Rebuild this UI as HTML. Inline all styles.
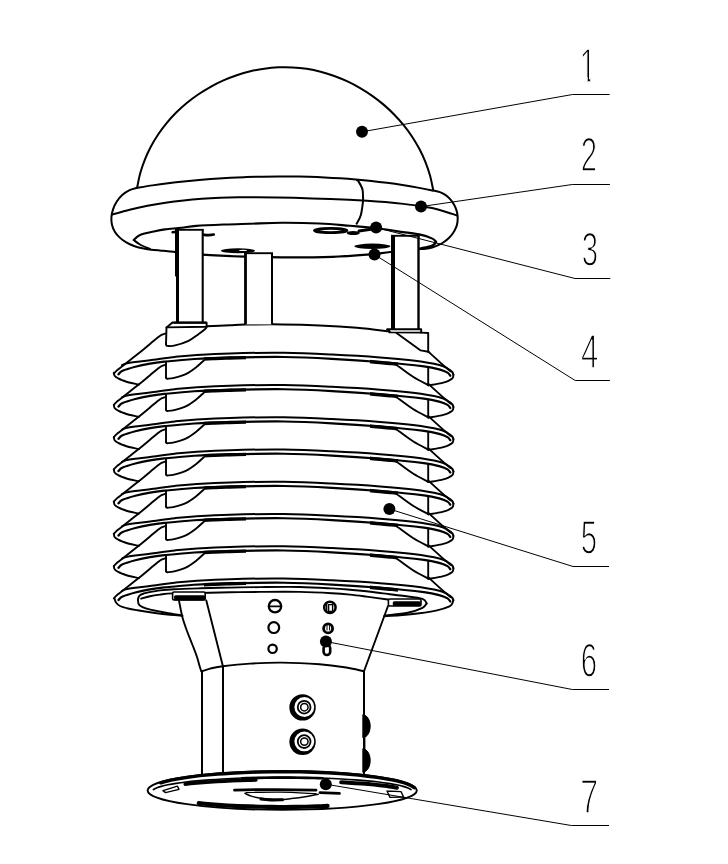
<!DOCTYPE html>
<html lang="en">
<head>
<meta charset="utf-8">
<title>Figure</title>
<style>
html,body{margin:0;padding:0;background:#fff;}
body{width:728px;height:864px;overflow:hidden;}
svg{display:block;}
svg path, svg ellipse, svg circle{stroke-linecap:round;stroke-linejoin:round;}
.lbl{filter:grayscale(1);}
.lbl text{font-family:"Liberation Sans","DejaVu Sans",sans-serif;font-size:47.4px;fill:#000;stroke:#fff;stroke-width:1.55px;paint-order:fill stroke;}
</style>
</head>
<body>
<svg width="728" height="864" viewBox="0 0 728 864">
<defs><clipPath id="c1"><rect x="-12" y="-40" width="16.2" height="35.2"/><rect x="0.2" y="-40" width="4" height="42"/></clipPath></defs>
<rect x="0" y="0" width="728" height="864" fill="#fff"/>
<g>
<path d="M137.10,187.81C137.62,185.39 138.92,178.03 140.21,173.31C141.51,168.60 143.07,163.99 144.86,159.51C146.64,155.04 148.68,150.68 150.92,146.46C153.16,142.24 155.63,138.15 158.29,134.20C160.94,130.26 163.81,126.45 166.84,122.80C169.87,119.15 173.10,115.64 176.47,112.30C179.84,108.96 183.39,105.77 187.06,102.76C190.73,99.75 194.56,96.90 198.50,94.24C202.43,91.57 206.51,89.08 210.66,86.78C214.82,84.48 219.10,82.35 223.45,80.43C227.80,78.52 232.24,76.78 236.74,75.26C241.23,73.75 245.81,72.42 250.42,71.32C255.02,70.22 259.69,69.32 264.37,68.66C269.04,67.99 273.77,67.54 278.48,67.32C283.19,67.11 287.93,67.12 292.63,67.38C297.34,67.63 302.06,68.13 306.72,68.86C311.39,69.59 316.04,70.56 320.63,71.74C325.22,72.92 329.77,74.33 334.25,75.94C338.72,77.55 343.14,79.38 347.46,81.40C351.78,83.41 356.03,85.64 360.16,88.04C364.29,90.45 368.34,93.05 372.24,95.81C376.15,98.57 379.95,101.52 383.59,104.63C387.23,107.73 390.75,111.01 394.10,114.43C397.44,117.84 400.64,121.43 403.64,125.14C406.65,128.85 409.50,132.71 412.13,136.70C414.76,140.68 417.21,144.80 419.43,149.03C421.66,153.26 423.68,157.62 425.46,162.07C427.23,166.53 428.79,171.10 430.08,175.75C431.37,180.41 432.68,187.63 433.20,190.00" fill="none" stroke="#000" stroke-width="2.0" />
<path d="M137.10,187.80C139.67,187.39 147.38,186.13 152.53,185.37C157.68,184.62 162.85,183.92 168.02,183.28C173.19,182.63 178.37,182.03 183.56,181.49C188.75,180.94 193.95,180.44 199.15,179.99C204.35,179.54 209.56,179.14 214.77,178.77C219.99,178.41 225.21,178.10 230.43,177.82C235.65,177.55 240.88,177.32 246.11,177.12C251.33,176.93 256.57,176.78 261.80,176.66C267.03,176.55 272.26,176.47 277.50,176.44C282.73,176.41 287.96,176.42 293.19,176.48C298.42,176.54 303.66,176.64 308.88,176.79C314.11,176.94 319.34,177.13 324.56,177.38C329.78,177.63 335.00,177.92 340.21,178.27C345.42,178.61 350.63,179.01 355.83,179.47C361.03,179.92 366.22,180.42 371.41,180.99C376.59,181.55 381.77,182.17 386.94,182.85C392.11,183.53 397.27,184.26 402.43,185.06C407.58,185.86 412.72,186.72 417.85,187.64C422.98,188.56 430.64,190.10 433.20,190.60" fill="none" stroke="#000" stroke-width="2.0" />
<path d="M137.10,187.80C135.76,188.22 131.53,189.08 129.05,190.30C126.57,191.51 124.24,193.21 122.20,195.08C120.16,196.96 118.32,199.22 116.81,201.54C115.30,203.87 114.03,206.48 113.14,209.05C112.24,211.62 111.63,214.37 111.43,216.97C111.23,219.58 111.38,222.25 111.95,224.70C112.52,227.15 113.53,229.51 114.84,231.66C116.14,233.82 117.86,235.84 119.78,237.64C121.69,239.44 123.94,241.08 126.31,242.47C128.68,243.87 131.31,245.04 133.99,246.01C136.66,246.99 139.52,247.69 142.37,248.30C145.22,248.90 148.18,249.30 151.06,249.66C153.94,250.02 156.87,250.24 159.66,250.48C162.45,250.73 165.22,250.88 167.77,251.14C170.33,251.39 173.80,251.86 175.00,252.00" fill="none" stroke="#000" stroke-width="2.0" />
<path d="M175.00,252.00C179.50,252.45 190.33,253.93 202.00,254.70C213.67,255.47 231.67,256.17 245.00,256.60C258.33,257.03 267.50,257.27 282.00,257.30C296.50,257.33 317.78,257.25 332.00,256.80C346.22,256.35 357.57,255.40 367.30,254.60C377.03,253.80 381.70,252.93 390.40,252.00C399.10,251.07 414.65,249.50 419.50,249.00" fill="none" stroke="#000" stroke-width="2.2" />
<path d="M419.50,249.00C420.56,248.97 423.73,249.05 425.84,248.80C427.95,248.55 430.10,248.10 432.18,247.50C434.25,246.89 436.32,246.11 438.28,245.19C440.23,244.27 442.15,243.18 443.92,241.98C445.69,240.78 447.38,239.43 448.88,237.98C450.39,236.53 451.78,234.95 452.94,233.28C454.10,231.62 455.12,229.84 455.87,227.99C456.62,226.15 457.16,224.20 457.45,222.23C457.74,220.26 457.78,218.19 457.61,216.18C457.44,214.16 457.03,212.10 456.43,210.14C455.82,208.18 454.99,206.23 453.98,204.42C452.97,202.61 451.75,200.86 450.36,199.31C448.96,197.75 447.38,196.30 445.63,195.10C443.88,193.90 441.96,192.85 439.88,192.10C437.81,191.35 434.31,190.85 433.20,190.60" fill="none" stroke="#000" stroke-width="2.0" />
<path d="M111.90,214.60C114.85,213.78 123.69,211.18 129.62,209.71C135.55,208.24 141.51,206.95 147.49,205.78C153.48,204.62 159.48,203.61 165.51,202.72C171.53,201.83 177.57,201.08 183.63,200.43C189.69,199.78 195.77,199.26 201.86,198.83C207.95,198.39 214.05,198.07 220.16,197.82C226.27,197.56 232.39,197.41 238.52,197.31C244.64,197.21 250.78,197.19 256.91,197.21C263.05,197.23 269.19,197.32 275.33,197.43C281.47,197.54 287.61,197.70 293.74,197.87C299.88,198.04 306.01,198.25 312.13,198.45C318.26,198.65 324.38,198.85 330.49,199.08C336.60,199.30 342.70,199.52 348.79,199.80C354.89,200.08 360.98,200.37 367.06,200.74C373.15,201.12 379.22,201.54 385.30,202.06C391.37,202.58 397.44,203.16 403.51,203.87C409.58,204.58 415.67,205.33 421.70,206.34C427.73,207.34 433.79,208.39 439.69,209.92C445.59,211.45 454.20,214.57 457.10,215.50" fill="none" stroke="#000" stroke-width="2.0" />
<path d="M357.00,180.20C357.20,180.32 357.30,179.42 358.20,180.90C359.10,182.38 361.60,186.42 362.40,189.10C363.20,191.78 362.92,194.80 363.00,197.00C363.08,199.20 363.28,199.22 362.90,202.30C362.52,205.38 361.75,211.93 360.70,215.50C359.65,219.07 357.28,222.33 356.60,223.70" fill="none" stroke="#000" stroke-width="2.0" />
<path d="M133.75,240.00C134.79,239.17 136.46,236.47 140.00,235.00C143.54,233.53 150.83,232.13 155.00,231.20C159.17,230.27 160.58,229.97 165.00,229.40C169.42,228.83 176.28,228.38 181.50,227.80C186.72,227.22 189.05,226.45 196.30,225.90C203.55,225.35 216.05,224.86 225.00,224.50C233.95,224.14 240.50,224.03 250.00,223.75C259.50,223.47 270.42,222.84 282.00,222.80C293.58,222.76 308.17,223.00 319.50,223.50C330.83,224.00 340.67,225.05 350.00,225.80C359.33,226.55 367.27,227.03 375.50,228.00C383.73,228.97 392.12,230.53 399.40,231.60C406.68,232.67 413.70,233.23 419.20,234.40C424.70,235.57 429.60,237.33 432.40,238.60C435.20,239.87 435.40,241.43 436.00,242.00" fill="none" stroke="#000" stroke-width="2.1" />
<path d="M133.75,240.00C134.79,240.75 137.29,243.00 140.00,244.50C142.71,246.00 148.33,248.25 150.00,249.00" fill="none" stroke="#000" stroke-width="2.0" />
<path d="M436.00,242.00C435.40,242.60 435.07,244.48 432.40,245.60C429.73,246.72 422.07,248.18 420.00,248.70" fill="none" stroke="#000" stroke-width="2.6" />
<ellipse cx="330.7" cy="230.5" rx="16.2" ry="2.1" fill="#fff" stroke="#000" stroke-width="2.9"/>
<ellipse cx="353.2" cy="233" rx="6.6" ry="2.0" fill="#000"/>
<path d="M359.00,231.00L376.00,228.50" fill="none" stroke="#000" stroke-width="3" />
<ellipse cx="372.4" cy="246.3" rx="18" ry="2.7" fill="#000"/>
<ellipse cx="238" cy="250.8" rx="17" ry="2.5" fill="#000"/>
<ellipse cx="243" cy="250.4" rx="4" ry="0.7" fill="#fff"/>
<path d="M172.5,232.2L177,231.8" fill="none" stroke="#000" stroke-width="2.4" />
<path d="M203,234.6C207,235.3 211,235.2 213.8,234.6" fill="none" stroke="#000" stroke-width="2.6" />
<path d="M206.60,326.30C210.50,326.12 223.60,325.48 230.00,325.20C236.40,324.92 236.33,324.73 245.00,324.60C253.67,324.47 269.58,324.27 282.00,324.40C294.42,324.53 307.00,324.83 319.50,325.40C332.00,325.97 345.33,326.80 357.00,327.80C368.67,328.80 384.08,330.80 389.50,331.40" fill="none" stroke="#000" stroke-width="2.0" />
<rect x="177.0" y="229.8" width="25.69999999999999" height="92.69999999999999" fill="#fff" stroke="none"/>
<path d="M177.00,229.80L177.00,276.40" fill="none" stroke="#000" stroke-width="4.0" style="stroke-linecap:butt"/>
<path d="M177.50,275.40L177.50,322.50" fill="none" stroke="#000" stroke-width="3.0" style="stroke-linecap:butt"/>
<path d="M202.70,229.80L202.70,322.50" fill="none" stroke="#000" stroke-width="2.1" style="stroke-linecap:butt"/>
<path d="M175.00,229.80L203.75,229.80" fill="none" stroke="#000" stroke-width="1.9" style="stroke-linecap:butt"/>
<rect x="245.5" y="253.2" width="26.5" height="71.19999999999999" fill="#fff" stroke="none"/>
<path d="M245.50,253.20L245.50,324.40" fill="none" stroke="#000" stroke-width="2.8" style="stroke-linecap:butt"/>
<path d="M272.00,253.20L272.00,324.40" fill="none" stroke="#000" stroke-width="2.0" style="stroke-linecap:butt"/>
<path d="M244.10,253.20L273.00,253.20" fill="none" stroke="#000" stroke-width="1.9" style="stroke-linecap:butt"/>
<rect x="393.0" y="235.8" width="25.5" height="93.39999999999998" fill="#fff" stroke="none"/>
<path d="M393.00,235.80L393.00,329.20" fill="none" stroke="#000" stroke-width="4.0" style="stroke-linecap:butt"/>
<path d="M418.50,235.80L418.50,329.20" fill="none" stroke="#000" stroke-width="2.4" style="stroke-linecap:butt"/>
<path d="M391.00,235.80L419.70,235.80" fill="none" stroke="#000" stroke-width="1.9" style="stroke-linecap:butt"/>
<path d="M172.50,322.60L206.60,322.60L206.60,326.80L166.50,327.40" fill="none" stroke="#000" stroke-width="1.9" />
<path d="M174,322.6L206,322.6" fill="none" stroke="#000" stroke-width="2.2" />
<path d="M172.5,322.6L166.5,327.4L166,344" fill="none" stroke="#000" stroke-width="1.9" />
<path d="M166.00,344.00C166.07,344.23 166.13,345.08 166.40,345.40C166.67,345.72 166.30,345.85 167.60,345.90C168.90,345.95 170.72,346.55 174.20,345.70C177.68,344.85 184.47,342.72 188.50,340.80C192.53,338.88 195.57,336.22 198.40,334.20C201.23,332.18 204.13,329.93 205.50,328.70C206.87,327.47 206.42,327.12 206.60,326.80" fill="none" stroke="#000" stroke-width="1.9" />
<path d="M389.50,331.40L387.00,329.30L421.20,329.30L421.20,332.60L389.50,332.40" fill="none" stroke="#000" stroke-width="1.9" />
<path d="M421.2,332.6L428.2,333L428.2,351.7" fill="none" stroke="#000" stroke-width="1.9" />
<path d="M396.50,333.00L420.70,350.40L428.40,351.70" fill="none" stroke="#000" stroke-width="1.9" />
<path d="M122.00,365.20C122.63,364.93 123.63,364.13 125.80,363.60C127.97,363.07 130.97,362.57 135.00,362.00C139.03,361.43 143.33,361.05 150.00,360.20C156.67,359.35 167.67,357.73 175.00,356.90C182.33,356.07 184.83,355.78 194.00,355.20C203.17,354.62 215.00,353.80 230.00,353.40C245.00,353.00 267.00,352.62 284.00,352.80C301.00,352.98 316.00,353.73 332.00,354.50C348.00,355.27 366.50,356.38 380.00,357.40C393.50,358.42 403.12,359.33 413.00,360.60C422.88,361.87 433.47,363.63 439.30,365.00C445.13,366.37 445.85,367.63 448.00,368.80C450.15,369.97 451.30,371.02 452.20,372.00C453.10,372.98 453.20,374.25 453.40,374.70" fill="none" stroke="#000" stroke-width="2.0" />
<path d="M118.40,374.40C119.10,373.80 119.78,372.08 122.60,370.80C125.42,369.52 130.73,367.90 135.30,366.70C139.87,365.50 145.17,364.43 150.00,363.60C154.83,362.77 156.97,362.47 164.30,361.70C171.63,360.93 183.05,359.68 194.00,359.00C204.95,358.32 215.00,357.93 230.00,357.60C245.00,357.27 267.00,356.80 284.00,357.00C301.00,357.20 316.00,357.97 332.00,358.80C348.00,359.63 364.67,360.73 380.00,362.00C395.33,363.27 414.00,365.13 424.00,366.40C434.00,367.67 436.08,368.57 440.00,369.60C443.92,370.63 445.78,371.57 447.50,372.60C449.22,373.63 449.83,375.27 450.30,375.80" fill="none" stroke="#000" stroke-width="2.2" />
<path d="M204.00,359.00C205.83,358.93 210.67,358.77 215.00,358.60C219.33,358.43 224.83,358.17 230.00,358.00C235.17,357.83 243.33,357.67 246.00,357.60" fill="none" stroke="#000" stroke-width="3.3" style="stroke-linecap:butt"/>
<path d="M370.00,361.60C371.67,361.73 376.67,362.10 380.00,362.40C383.33,362.70 387.00,363.08 390.00,363.40C393.00,363.72 396.67,364.15 398.00,364.30" fill="none" stroke="#000" stroke-width="3.5" style="stroke-linecap:butt"/>
<path d="M166.00,333.30C165.25,333.55 162.88,334.10 161.50,334.80C160.12,335.50 159.62,335.97 157.70,337.50C155.78,339.03 152.68,341.75 150.00,344.00C147.32,346.25 145.85,347.58 141.60,351.00C137.35,354.42 128.50,361.37 124.50,364.50C120.50,367.63 119.38,368.28 117.60,369.80C115.82,371.32 114.43,372.97 113.80,373.60" fill="none" stroke="#000" stroke-width="1.9" />
<path d="M428.40,351.70C430.58,353.68 437.82,360.33 441.50,363.60C445.18,366.87 449.00,370.02 450.50,371.30" fill="none" stroke="#000" stroke-width="1.9" />
<path d="M113.80,372.60C113.97,373.17 114.07,375.03 114.80,376.00C115.53,376.97 116.90,377.68 118.20,378.40C119.50,379.12 120.80,379.62 122.60,380.30C124.40,380.98 126.68,381.87 129.00,382.50C131.32,383.13 134.83,383.77 136.50,384.10C138.17,384.43 138.58,384.43 139.00,384.50" fill="none" stroke="#000" stroke-width="1.9" />
<path d="M453.40,374.70C453.33,375.13 453.33,376.57 453.00,377.30C452.67,378.03 452.57,378.33 451.40,379.10C450.23,379.87 448.73,381.02 446.00,381.90C443.27,382.78 437.93,383.85 435.00,384.40C432.07,384.95 429.50,385.07 428.40,385.20" fill="none" stroke="#000" stroke-width="1.9" />
<path d="M396.50,364.90C399.25,366.88 407.68,373.42 413.00,376.80C418.32,380.18 425.83,383.80 428.40,385.20" fill="none" stroke="#000" stroke-width="1.9" />
<path d="M428.2,367.30L428.2,385.20" fill="none" stroke="#000" stroke-width="1.9" />
<path d="M166,361.70L166,377.60" fill="none" stroke="#000" stroke-width="1.9" />
<path d="M166.00,377.60C166.07,377.73 166.13,378.22 166.40,378.40C166.67,378.58 166.30,378.78 167.60,378.70C168.90,378.62 171.08,378.72 174.20,377.90C177.32,377.08 182.63,375.58 186.30,373.80C189.97,372.02 193.28,369.42 196.20,367.20C199.12,364.98 202.53,361.62 203.80,360.50" fill="none" stroke="#000" stroke-width="1.9" />
<path d="M122.00,397.45C122.63,397.18 123.63,396.38 125.80,395.85C127.97,395.32 130.97,394.82 135.00,394.25C139.03,393.68 143.33,393.30 150.00,392.45C156.67,391.60 167.67,389.98 175.00,389.15C182.33,388.32 184.83,388.03 194.00,387.45C203.17,386.87 215.00,386.05 230.00,385.65C245.00,385.25 267.00,384.87 284.00,385.05C301.00,385.23 316.00,385.98 332.00,386.75C348.00,387.52 366.50,388.63 380.00,389.65C393.50,390.67 403.12,391.58 413.00,392.85C422.88,394.12 433.47,395.88 439.30,397.25C445.13,398.62 445.85,399.88 448.00,401.05C450.15,402.22 451.30,403.27 452.20,404.25C453.10,405.23 453.20,406.50 453.40,406.95" fill="none" stroke="#000" stroke-width="2.0" />
<path d="M118.40,406.65C119.10,406.05 119.78,404.33 122.60,403.05C125.42,401.77 130.73,400.15 135.30,398.95C139.87,397.75 145.17,396.68 150.00,395.85C154.83,395.02 156.97,394.72 164.30,393.95C171.63,393.18 183.05,391.93 194.00,391.25C204.95,390.57 215.00,390.18 230.00,389.85C245.00,389.52 267.00,389.05 284.00,389.25C301.00,389.45 316.00,390.22 332.00,391.05C348.00,391.88 364.67,392.98 380.00,394.25C395.33,395.52 414.00,397.38 424.00,398.65C434.00,399.92 436.08,400.82 440.00,401.85C443.92,402.88 445.78,403.82 447.50,404.85C449.22,405.88 449.83,407.52 450.30,408.05" fill="none" stroke="#000" stroke-width="2.2" />
<path d="M204.00,391.25C205.83,391.18 210.67,391.02 215.00,390.85C219.33,390.68 224.83,390.42 230.00,390.25C235.17,390.08 243.33,389.92 246.00,389.85" fill="none" stroke="#000" stroke-width="3.3" style="stroke-linecap:butt"/>
<path d="M370.00,393.85C371.67,393.98 376.67,394.35 380.00,394.65C383.33,394.95 387.00,395.33 390.00,395.65C393.00,395.97 396.67,396.40 398.00,396.55" fill="none" stroke="#000" stroke-width="3.5" style="stroke-linecap:butt"/>
<path d="M166.00,364.55C165.25,364.80 162.88,365.35 161.50,366.05C160.12,366.75 159.62,367.22 157.70,368.75C155.78,370.28 152.68,373.00 150.00,375.25C147.32,377.50 145.85,378.83 141.60,382.25C137.35,385.67 128.50,392.62 124.50,395.75C120.50,398.88 119.38,399.53 117.60,401.05C115.82,402.57 114.43,404.22 113.80,404.85" fill="none" stroke="#000" stroke-width="1.9" />
<path d="M428.40,383.95C430.58,385.93 437.82,392.58 441.50,395.85C445.18,399.12 449.00,402.27 450.50,403.55" fill="none" stroke="#000" stroke-width="1.9" />
<path d="M113.80,404.85C113.97,405.42 114.07,407.28 114.80,408.25C115.53,409.22 116.90,409.93 118.20,410.65C119.50,411.37 120.80,411.87 122.60,412.55C124.40,413.23 126.68,414.12 129.00,414.75C131.32,415.38 134.83,416.02 136.50,416.35C138.17,416.68 138.58,416.68 139.00,416.75" fill="none" stroke="#000" stroke-width="1.9" />
<path d="M453.40,406.95C453.33,407.38 453.33,408.82 453.00,409.55C452.67,410.28 452.57,410.58 451.40,411.35C450.23,412.12 448.73,413.27 446.00,414.15C443.27,415.03 437.93,416.10 435.00,416.65C432.07,417.20 429.50,417.32 428.40,417.45" fill="none" stroke="#000" stroke-width="1.9" />
<path d="M396.50,397.15C399.25,399.13 407.68,405.67 413.00,409.05C418.32,412.43 425.83,416.05 428.40,417.45" fill="none" stroke="#000" stroke-width="1.9" />
<path d="M428.2,399.55L428.2,417.45" fill="none" stroke="#000" stroke-width="1.9" />
<path d="M166,393.95L166,409.85" fill="none" stroke="#000" stroke-width="1.9" />
<path d="M166.00,409.85C166.07,409.98 166.13,410.47 166.40,410.65C166.67,410.83 166.30,411.03 167.60,410.95C168.90,410.87 171.08,410.97 174.20,410.15C177.32,409.33 182.63,407.83 186.30,406.05C189.97,404.27 193.28,401.67 196.20,399.45C199.12,397.23 202.53,393.87 203.80,392.75" fill="none" stroke="#000" stroke-width="1.9" />
<path d="M122.00,429.70C122.63,429.43 123.63,428.63 125.80,428.10C127.97,427.57 130.97,427.07 135.00,426.50C139.03,425.93 143.33,425.55 150.00,424.70C156.67,423.85 167.67,422.23 175.00,421.40C182.33,420.57 184.83,420.28 194.00,419.70C203.17,419.12 215.00,418.30 230.00,417.90C245.00,417.50 267.00,417.12 284.00,417.30C301.00,417.48 316.00,418.23 332.00,419.00C348.00,419.77 366.50,420.88 380.00,421.90C393.50,422.92 403.12,423.83 413.00,425.10C422.88,426.37 433.47,428.13 439.30,429.50C445.13,430.87 445.85,432.13 448.00,433.30C450.15,434.47 451.30,435.52 452.20,436.50C453.10,437.48 453.20,438.75 453.40,439.20" fill="none" stroke="#000" stroke-width="2.0" />
<path d="M118.40,438.90C119.10,438.30 119.78,436.58 122.60,435.30C125.42,434.02 130.73,432.40 135.30,431.20C139.87,430.00 145.17,428.93 150.00,428.10C154.83,427.27 156.97,426.97 164.30,426.20C171.63,425.43 183.05,424.18 194.00,423.50C204.95,422.82 215.00,422.43 230.00,422.10C245.00,421.77 267.00,421.30 284.00,421.50C301.00,421.70 316.00,422.47 332.00,423.30C348.00,424.13 364.67,425.23 380.00,426.50C395.33,427.77 414.00,429.63 424.00,430.90C434.00,432.17 436.08,433.07 440.00,434.10C443.92,435.13 445.78,436.07 447.50,437.10C449.22,438.13 449.83,439.77 450.30,440.30" fill="none" stroke="#000" stroke-width="2.2" />
<path d="M204.00,423.50C205.83,423.43 210.67,423.27 215.00,423.10C219.33,422.93 224.83,422.67 230.00,422.50C235.17,422.33 243.33,422.17 246.00,422.10" fill="none" stroke="#000" stroke-width="3.3" style="stroke-linecap:butt"/>
<path d="M370.00,426.10C371.67,426.23 376.67,426.60 380.00,426.90C383.33,427.20 387.00,427.58 390.00,427.90C393.00,428.22 396.67,428.65 398.00,428.80" fill="none" stroke="#000" stroke-width="3.5" style="stroke-linecap:butt"/>
<path d="M166.00,396.80C165.25,397.05 162.88,397.60 161.50,398.30C160.12,399.00 159.62,399.47 157.70,401.00C155.78,402.53 152.68,405.25 150.00,407.50C147.32,409.75 145.85,411.08 141.60,414.50C137.35,417.92 128.50,424.87 124.50,428.00C120.50,431.13 119.38,431.78 117.60,433.30C115.82,434.82 114.43,436.47 113.80,437.10" fill="none" stroke="#000" stroke-width="1.9" />
<path d="M428.40,416.20C430.58,418.18 437.82,424.83 441.50,428.10C445.18,431.37 449.00,434.52 450.50,435.80" fill="none" stroke="#000" stroke-width="1.9" />
<path d="M113.80,437.10C113.97,437.67 114.07,439.53 114.80,440.50C115.53,441.47 116.90,442.18 118.20,442.90C119.50,443.62 120.80,444.12 122.60,444.80C124.40,445.48 126.68,446.37 129.00,447.00C131.32,447.63 134.83,448.27 136.50,448.60C138.17,448.93 138.58,448.93 139.00,449.00" fill="none" stroke="#000" stroke-width="1.9" />
<path d="M453.40,439.20C453.33,439.63 453.33,441.07 453.00,441.80C452.67,442.53 452.57,442.83 451.40,443.60C450.23,444.37 448.73,445.52 446.00,446.40C443.27,447.28 437.93,448.35 435.00,448.90C432.07,449.45 429.50,449.57 428.40,449.70" fill="none" stroke="#000" stroke-width="1.9" />
<path d="M396.50,429.40C399.25,431.38 407.68,437.92 413.00,441.30C418.32,444.68 425.83,448.30 428.40,449.70" fill="none" stroke="#000" stroke-width="1.9" />
<path d="M428.2,431.80L428.2,449.70" fill="none" stroke="#000" stroke-width="1.9" />
<path d="M166,426.20L166,442.10" fill="none" stroke="#000" stroke-width="1.9" />
<path d="M166.00,442.10C166.07,442.23 166.13,442.72 166.40,442.90C166.67,443.08 166.30,443.28 167.60,443.20C168.90,443.12 171.08,443.22 174.20,442.40C177.32,441.58 182.63,440.08 186.30,438.30C189.97,436.52 193.28,433.92 196.20,431.70C199.12,429.48 202.53,426.12 203.80,425.00" fill="none" stroke="#000" stroke-width="1.9" />
<path d="M122.00,461.95C122.63,461.68 123.63,460.88 125.80,460.35C127.97,459.82 130.97,459.32 135.00,458.75C139.03,458.18 143.33,457.80 150.00,456.95C156.67,456.10 167.67,454.48 175.00,453.65C182.33,452.82 184.83,452.53 194.00,451.95C203.17,451.37 215.00,450.55 230.00,450.15C245.00,449.75 267.00,449.37 284.00,449.55C301.00,449.73 316.00,450.48 332.00,451.25C348.00,452.02 366.50,453.13 380.00,454.15C393.50,455.17 403.12,456.08 413.00,457.35C422.88,458.62 433.47,460.38 439.30,461.75C445.13,463.12 445.85,464.38 448.00,465.55C450.15,466.72 451.30,467.77 452.20,468.75C453.10,469.73 453.20,471.00 453.40,471.45" fill="none" stroke="#000" stroke-width="2.0" />
<path d="M118.40,471.15C119.10,470.55 119.78,468.83 122.60,467.55C125.42,466.27 130.73,464.65 135.30,463.45C139.87,462.25 145.17,461.18 150.00,460.35C154.83,459.52 156.97,459.22 164.30,458.45C171.63,457.68 183.05,456.43 194.00,455.75C204.95,455.07 215.00,454.68 230.00,454.35C245.00,454.02 267.00,453.55 284.00,453.75C301.00,453.95 316.00,454.72 332.00,455.55C348.00,456.38 364.67,457.48 380.00,458.75C395.33,460.02 414.00,461.88 424.00,463.15C434.00,464.42 436.08,465.32 440.00,466.35C443.92,467.38 445.78,468.32 447.50,469.35C449.22,470.38 449.83,472.02 450.30,472.55" fill="none" stroke="#000" stroke-width="2.2" />
<path d="M204.00,455.75C205.83,455.68 210.67,455.52 215.00,455.35C219.33,455.18 224.83,454.92 230.00,454.75C235.17,454.58 243.33,454.42 246.00,454.35" fill="none" stroke="#000" stroke-width="3.3" style="stroke-linecap:butt"/>
<path d="M370.00,458.35C371.67,458.48 376.67,458.85 380.00,459.15C383.33,459.45 387.00,459.83 390.00,460.15C393.00,460.47 396.67,460.90 398.00,461.05" fill="none" stroke="#000" stroke-width="3.5" style="stroke-linecap:butt"/>
<path d="M166.00,429.05C165.25,429.30 162.88,429.85 161.50,430.55C160.12,431.25 159.62,431.72 157.70,433.25C155.78,434.78 152.68,437.50 150.00,439.75C147.32,442.00 145.85,443.33 141.60,446.75C137.35,450.17 128.50,457.12 124.50,460.25C120.50,463.38 119.38,464.03 117.60,465.55C115.82,467.07 114.43,468.72 113.80,469.35" fill="none" stroke="#000" stroke-width="1.9" />
<path d="M428.40,448.45C430.58,450.43 437.82,457.08 441.50,460.35C445.18,463.62 449.00,466.77 450.50,468.05" fill="none" stroke="#000" stroke-width="1.9" />
<path d="M113.80,469.35C113.97,469.92 114.07,471.78 114.80,472.75C115.53,473.72 116.90,474.43 118.20,475.15C119.50,475.87 120.80,476.37 122.60,477.05C124.40,477.73 126.68,478.62 129.00,479.25C131.32,479.88 134.83,480.52 136.50,480.85C138.17,481.18 138.58,481.18 139.00,481.25" fill="none" stroke="#000" stroke-width="1.9" />
<path d="M453.40,471.45C453.33,471.88 453.33,473.32 453.00,474.05C452.67,474.78 452.57,475.08 451.40,475.85C450.23,476.62 448.73,477.77 446.00,478.65C443.27,479.53 437.93,480.60 435.00,481.15C432.07,481.70 429.50,481.82 428.40,481.95" fill="none" stroke="#000" stroke-width="1.9" />
<path d="M396.50,461.65C399.25,463.63 407.68,470.17 413.00,473.55C418.32,476.93 425.83,480.55 428.40,481.95" fill="none" stroke="#000" stroke-width="1.9" />
<path d="M428.2,464.05L428.2,481.95" fill="none" stroke="#000" stroke-width="1.9" />
<path d="M166,458.45L166,474.35" fill="none" stroke="#000" stroke-width="1.9" />
<path d="M166.00,474.35C166.07,474.48 166.13,474.97 166.40,475.15C166.67,475.33 166.30,475.53 167.60,475.45C168.90,475.37 171.08,475.47 174.20,474.65C177.32,473.83 182.63,472.33 186.30,470.55C189.97,468.77 193.28,466.17 196.20,463.95C199.12,461.73 202.53,458.37 203.80,457.25" fill="none" stroke="#000" stroke-width="1.9" />
<path d="M122.00,494.20C122.63,493.93 123.63,493.13 125.80,492.60C127.97,492.07 130.97,491.57 135.00,491.00C139.03,490.43 143.33,490.05 150.00,489.20C156.67,488.35 167.67,486.73 175.00,485.90C182.33,485.07 184.83,484.78 194.00,484.20C203.17,483.62 215.00,482.80 230.00,482.40C245.00,482.00 267.00,481.62 284.00,481.80C301.00,481.98 316.00,482.73 332.00,483.50C348.00,484.27 366.50,485.38 380.00,486.40C393.50,487.42 403.12,488.33 413.00,489.60C422.88,490.87 433.47,492.63 439.30,494.00C445.13,495.37 445.85,496.63 448.00,497.80C450.15,498.97 451.30,500.02 452.20,501.00C453.10,501.98 453.20,503.25 453.40,503.70" fill="none" stroke="#000" stroke-width="2.0" />
<path d="M118.40,503.40C119.10,502.80 119.78,501.08 122.60,499.80C125.42,498.52 130.73,496.90 135.30,495.70C139.87,494.50 145.17,493.43 150.00,492.60C154.83,491.77 156.97,491.47 164.30,490.70C171.63,489.93 183.05,488.68 194.00,488.00C204.95,487.32 215.00,486.93 230.00,486.60C245.00,486.27 267.00,485.80 284.00,486.00C301.00,486.20 316.00,486.97 332.00,487.80C348.00,488.63 364.67,489.73 380.00,491.00C395.33,492.27 414.00,494.13 424.00,495.40C434.00,496.67 436.08,497.57 440.00,498.60C443.92,499.63 445.78,500.57 447.50,501.60C449.22,502.63 449.83,504.27 450.30,504.80" fill="none" stroke="#000" stroke-width="2.2" />
<path d="M204.00,488.00C205.83,487.93 210.67,487.77 215.00,487.60C219.33,487.43 224.83,487.17 230.00,487.00C235.17,486.83 243.33,486.67 246.00,486.60" fill="none" stroke="#000" stroke-width="3.3" style="stroke-linecap:butt"/>
<path d="M370.00,490.60C371.67,490.73 376.67,491.10 380.00,491.40C383.33,491.70 387.00,492.08 390.00,492.40C393.00,492.72 396.67,493.15 398.00,493.30" fill="none" stroke="#000" stroke-width="3.5" style="stroke-linecap:butt"/>
<path d="M166.00,461.30C165.25,461.55 162.88,462.10 161.50,462.80C160.12,463.50 159.62,463.97 157.70,465.50C155.78,467.03 152.68,469.75 150.00,472.00C147.32,474.25 145.85,475.58 141.60,479.00C137.35,482.42 128.50,489.37 124.50,492.50C120.50,495.63 119.38,496.28 117.60,497.80C115.82,499.32 114.43,500.97 113.80,501.60" fill="none" stroke="#000" stroke-width="1.9" />
<path d="M428.40,480.70C430.58,482.68 437.82,489.33 441.50,492.60C445.18,495.87 449.00,499.02 450.50,500.30" fill="none" stroke="#000" stroke-width="1.9" />
<path d="M113.80,501.60C113.97,502.17 114.07,504.03 114.80,505.00C115.53,505.97 116.90,506.68 118.20,507.40C119.50,508.12 120.80,508.62 122.60,509.30C124.40,509.98 126.68,510.87 129.00,511.50C131.32,512.13 134.83,512.77 136.50,513.10C138.17,513.43 138.58,513.43 139.00,513.50" fill="none" stroke="#000" stroke-width="1.9" />
<path d="M453.40,503.70C453.33,504.13 453.33,505.57 453.00,506.30C452.67,507.03 452.57,507.33 451.40,508.10C450.23,508.87 448.73,510.02 446.00,510.90C443.27,511.78 437.93,512.85 435.00,513.40C432.07,513.95 429.50,514.07 428.40,514.20" fill="none" stroke="#000" stroke-width="1.9" />
<path d="M396.50,493.90C399.25,495.88 407.68,502.42 413.00,505.80C418.32,509.18 425.83,512.80 428.40,514.20" fill="none" stroke="#000" stroke-width="1.9" />
<path d="M428.2,496.30L428.2,514.20" fill="none" stroke="#000" stroke-width="1.9" />
<path d="M166,490.70L166,506.60" fill="none" stroke="#000" stroke-width="1.9" />
<path d="M166.00,506.60C166.07,506.73 166.13,507.22 166.40,507.40C166.67,507.58 166.30,507.78 167.60,507.70C168.90,507.62 171.08,507.72 174.20,506.90C177.32,506.08 182.63,504.58 186.30,502.80C189.97,501.02 193.28,498.42 196.20,496.20C199.12,493.98 202.53,490.62 203.80,489.50" fill="none" stroke="#000" stroke-width="1.9" />
<path d="M122.00,526.45C122.63,526.18 123.63,525.38 125.80,524.85C127.97,524.32 130.97,523.82 135.00,523.25C139.03,522.68 143.33,522.30 150.00,521.45C156.67,520.60 167.67,518.98 175.00,518.15C182.33,517.32 184.83,517.03 194.00,516.45C203.17,515.87 215.00,515.05 230.00,514.65C245.00,514.25 267.00,513.87 284.00,514.05C301.00,514.23 316.00,514.98 332.00,515.75C348.00,516.52 366.50,517.63 380.00,518.65C393.50,519.67 403.12,520.58 413.00,521.85C422.88,523.12 433.47,524.88 439.30,526.25C445.13,527.62 445.85,528.88 448.00,530.05C450.15,531.22 451.30,532.27 452.20,533.25C453.10,534.23 453.20,535.50 453.40,535.95" fill="none" stroke="#000" stroke-width="2.0" />
<path d="M118.40,535.65C119.10,535.05 119.78,533.33 122.60,532.05C125.42,530.77 130.73,529.15 135.30,527.95C139.87,526.75 145.17,525.68 150.00,524.85C154.83,524.02 156.97,523.72 164.30,522.95C171.63,522.18 183.05,520.93 194.00,520.25C204.95,519.57 215.00,519.18 230.00,518.85C245.00,518.52 267.00,518.05 284.00,518.25C301.00,518.45 316.00,519.22 332.00,520.05C348.00,520.88 364.67,521.98 380.00,523.25C395.33,524.52 414.00,526.38 424.00,527.65C434.00,528.92 436.08,529.82 440.00,530.85C443.92,531.88 445.78,532.82 447.50,533.85C449.22,534.88 449.83,536.52 450.30,537.05" fill="none" stroke="#000" stroke-width="2.2" />
<path d="M204.00,520.25C205.83,520.18 210.67,520.02 215.00,519.85C219.33,519.68 224.83,519.42 230.00,519.25C235.17,519.08 243.33,518.92 246.00,518.85" fill="none" stroke="#000" stroke-width="3.3" style="stroke-linecap:butt"/>
<path d="M370.00,522.85C371.67,522.98 376.67,523.35 380.00,523.65C383.33,523.95 387.00,524.33 390.00,524.65C393.00,524.97 396.67,525.40 398.00,525.55" fill="none" stroke="#000" stroke-width="3.5" style="stroke-linecap:butt"/>
<path d="M166.00,493.55C165.25,493.80 162.88,494.35 161.50,495.05C160.12,495.75 159.62,496.22 157.70,497.75C155.78,499.28 152.68,502.00 150.00,504.25C147.32,506.50 145.85,507.83 141.60,511.25C137.35,514.67 128.50,521.62 124.50,524.75C120.50,527.88 119.38,528.53 117.60,530.05C115.82,531.57 114.43,533.22 113.80,533.85" fill="none" stroke="#000" stroke-width="1.9" />
<path d="M428.40,512.95C430.58,514.93 437.82,521.58 441.50,524.85C445.18,528.12 449.00,531.27 450.50,532.55" fill="none" stroke="#000" stroke-width="1.9" />
<path d="M113.80,533.85C113.97,534.42 114.07,536.28 114.80,537.25C115.53,538.22 116.90,538.93 118.20,539.65C119.50,540.37 120.80,540.87 122.60,541.55C124.40,542.23 126.68,543.12 129.00,543.75C131.32,544.38 134.83,545.02 136.50,545.35C138.17,545.68 138.58,545.68 139.00,545.75" fill="none" stroke="#000" stroke-width="1.9" />
<path d="M453.40,535.95C453.33,536.38 453.33,537.82 453.00,538.55C452.67,539.28 452.57,539.58 451.40,540.35C450.23,541.12 448.73,542.27 446.00,543.15C443.27,544.03 437.93,545.10 435.00,545.65C432.07,546.20 429.50,546.32 428.40,546.45" fill="none" stroke="#000" stroke-width="1.9" />
<path d="M396.50,526.15C399.25,528.13 407.68,534.67 413.00,538.05C418.32,541.43 425.83,545.05 428.40,546.45" fill="none" stroke="#000" stroke-width="1.9" />
<path d="M428.2,528.55L428.2,546.45" fill="none" stroke="#000" stroke-width="1.9" />
<path d="M166,522.95L166,538.85" fill="none" stroke="#000" stroke-width="1.9" />
<path d="M166.00,538.85C166.07,538.98 166.13,539.47 166.40,539.65C166.67,539.83 166.30,540.03 167.60,539.95C168.90,539.87 171.08,539.97 174.20,539.15C177.32,538.33 182.63,536.83 186.30,535.05C189.97,533.27 193.28,530.67 196.20,528.45C199.12,526.23 202.53,522.87 203.80,521.75" fill="none" stroke="#000" stroke-width="1.9" />
<path d="M122.00,558.70C122.63,558.43 123.63,557.63 125.80,557.10C127.97,556.57 130.97,556.07 135.00,555.50C139.03,554.93 143.33,554.55 150.00,553.70C156.67,552.85 167.67,551.23 175.00,550.40C182.33,549.57 184.83,549.28 194.00,548.70C203.17,548.12 215.00,547.30 230.00,546.90C245.00,546.50 267.00,546.12 284.00,546.30C301.00,546.48 316.00,547.23 332.00,548.00C348.00,548.77 366.50,549.88 380.00,550.90C393.50,551.92 403.12,552.83 413.00,554.10C422.88,555.37 433.47,557.13 439.30,558.50C445.13,559.87 445.85,561.13 448.00,562.30C450.15,563.47 451.30,564.52 452.20,565.50C453.10,566.48 453.20,567.75 453.40,568.20" fill="none" stroke="#000" stroke-width="2.0" />
<path d="M118.40,567.90C119.10,567.30 119.78,565.58 122.60,564.30C125.42,563.02 130.73,561.40 135.30,560.20C139.87,559.00 145.17,557.93 150.00,557.10C154.83,556.27 156.97,555.97 164.30,555.20C171.63,554.43 183.05,553.18 194.00,552.50C204.95,551.82 215.00,551.43 230.00,551.10C245.00,550.77 267.00,550.30 284.00,550.50C301.00,550.70 316.00,551.47 332.00,552.30C348.00,553.13 364.67,554.23 380.00,555.50C395.33,556.77 414.00,558.63 424.00,559.90C434.00,561.17 436.08,562.07 440.00,563.10C443.92,564.13 445.78,565.07 447.50,566.10C449.22,567.13 449.83,568.77 450.30,569.30" fill="none" stroke="#000" stroke-width="2.2" />
<path d="M204.00,552.50C205.83,552.43 210.67,552.27 215.00,552.10C219.33,551.93 224.83,551.67 230.00,551.50C235.17,551.33 243.33,551.17 246.00,551.10" fill="none" stroke="#000" stroke-width="3.3" style="stroke-linecap:butt"/>
<path d="M370.00,555.10C371.67,555.23 376.67,555.60 380.00,555.90C383.33,556.20 387.00,556.58 390.00,556.90C393.00,557.22 396.67,557.65 398.00,557.80" fill="none" stroke="#000" stroke-width="3.5" style="stroke-linecap:butt"/>
<path d="M166.00,525.80C165.25,526.05 162.88,526.60 161.50,527.30C160.12,528.00 159.62,528.47 157.70,530.00C155.78,531.53 152.68,534.25 150.00,536.50C147.32,538.75 145.85,540.08 141.60,543.50C137.35,546.92 128.50,553.87 124.50,557.00C120.50,560.13 119.38,560.78 117.60,562.30C115.82,563.82 114.43,565.47 113.80,566.10" fill="none" stroke="#000" stroke-width="1.9" />
<path d="M428.40,545.20C430.58,547.18 437.82,553.83 441.50,557.10C445.18,560.37 449.00,563.52 450.50,564.80" fill="none" stroke="#000" stroke-width="1.9" />
<path d="M113.80,566.10C113.97,566.67 114.07,568.53 114.80,569.50C115.53,570.47 116.90,571.18 118.20,571.90C119.50,572.62 120.80,573.12 122.60,573.80C124.40,574.48 126.68,575.37 129.00,576.00C131.32,576.63 134.83,577.27 136.50,577.60C138.17,577.93 138.58,577.93 139.00,578.00" fill="none" stroke="#000" stroke-width="1.9" />
<path d="M453.40,568.20C453.33,568.63 453.33,570.07 453.00,570.80C452.67,571.53 452.57,571.83 451.40,572.60C450.23,573.37 448.73,574.52 446.00,575.40C443.27,576.28 437.93,577.35 435.00,577.90C432.07,578.45 429.50,578.57 428.40,578.70" fill="none" stroke="#000" stroke-width="1.9" />
<path d="M396.50,558.40C399.25,560.38 407.68,566.92 413.00,570.30C418.32,573.68 425.83,577.30 428.40,578.70" fill="none" stroke="#000" stroke-width="1.9" />
<path d="M428.2,560.80L428.2,578.70" fill="none" stroke="#000" stroke-width="1.9" />
<path d="M166,555.20L166,571.10" fill="none" stroke="#000" stroke-width="1.9" />
<path d="M166.00,571.10C166.07,571.23 166.13,571.72 166.40,571.90C166.67,572.08 166.30,572.28 167.60,572.20C168.90,572.12 171.08,572.22 174.20,571.40C177.32,570.58 182.63,569.08 186.30,567.30C189.97,565.52 193.28,562.92 196.20,560.70C199.12,558.48 202.53,555.12 203.80,554.00" fill="none" stroke="#000" stroke-width="1.9" />
<path d="M122.00,590.95C122.63,590.68 123.63,589.88 125.80,589.35C127.97,588.82 130.97,588.32 135.00,587.75C139.03,587.18 143.33,586.80 150.00,585.95C156.67,585.10 167.67,583.48 175.00,582.65C182.33,581.82 184.83,581.53 194.00,580.95C203.17,580.37 215.00,579.55 230.00,579.15C245.00,578.75 267.00,578.37 284.00,578.55C301.00,578.73 316.00,579.48 332.00,580.25C348.00,581.02 366.50,582.13 380.00,583.15C393.50,584.17 403.12,585.08 413.00,586.35C422.88,587.62 433.47,589.38 439.30,590.75C445.13,592.12 445.85,593.38 448.00,594.55C450.15,595.72 451.30,596.77 452.20,597.75C453.10,598.73 453.20,600.00 453.40,600.45" fill="none" stroke="#000" stroke-width="2.0" />
<path d="M118.40,600.15C119.10,599.55 119.78,597.83 122.60,596.55C125.42,595.27 130.73,593.65 135.30,592.45C139.87,591.25 145.17,590.18 150.00,589.35C154.83,588.52 156.97,588.22 164.30,587.45C171.63,586.68 183.05,585.43 194.00,584.75C204.95,584.07 215.00,583.68 230.00,583.35C245.00,583.02 267.00,582.55 284.00,582.75C301.00,582.95 316.00,583.72 332.00,584.55C348.00,585.38 364.67,586.48 380.00,587.75C395.33,589.02 414.00,590.88 424.00,592.15C434.00,593.42 436.08,594.32 440.00,595.35C443.92,596.38 445.78,597.32 447.50,598.35C449.22,599.38 449.83,601.02 450.30,601.55" fill="none" stroke="#000" stroke-width="2.2" />
<path d="M204.00,584.75C205.83,584.68 210.67,584.52 215.00,584.35C219.33,584.18 224.83,583.92 230.00,583.75C235.17,583.58 243.33,583.42 246.00,583.35" fill="none" stroke="#000" stroke-width="3.3" style="stroke-linecap:butt"/>
<path d="M370.00,587.35C371.67,587.48 376.67,587.85 380.00,588.15C383.33,588.45 387.00,588.83 390.00,589.15C393.00,589.47 396.67,589.90 398.00,590.05" fill="none" stroke="#000" stroke-width="3.5" style="stroke-linecap:butt"/>
<path d="M166.00,558.05C165.25,558.30 162.88,558.85 161.50,559.55C160.12,560.25 159.62,560.72 157.70,562.25C155.78,563.78 152.68,566.50 150.00,568.75C147.32,571.00 145.85,572.33 141.60,575.75C137.35,579.17 128.50,586.12 124.50,589.25C120.50,592.38 119.38,593.03 117.60,594.55C115.82,596.07 114.43,597.72 113.80,598.35" fill="none" stroke="#000" stroke-width="1.9" />
<path d="M428.40,577.45C430.58,579.43 437.82,586.08 441.50,589.35C445.18,592.62 449.00,595.77 450.50,597.05" fill="none" stroke="#000" stroke-width="1.9" />
<path d="M114.50,598.60C114.75,599.25 115.08,601.27 116.00,602.50C116.92,603.73 118.00,605.00 120.00,606.00C122.00,607.00 125.08,607.78 128.00,608.50C130.92,609.22 133.00,609.55 137.50,610.30C142.00,611.05 149.58,612.25 155.00,613.00C160.42,613.75 165.42,614.35 170.00,614.80C174.58,615.25 180.42,615.55 182.50,615.70" fill="none" stroke="#000" stroke-width="1.9" />
<path d="M453.25,599.60C453.12,600.17 453.12,601.88 452.50,603.00C451.88,604.12 452.08,605.08 449.50,606.30C446.92,607.52 442.00,609.13 437.00,610.30C432.00,611.47 425.67,612.47 419.50,613.30C413.33,614.13 405.92,614.82 400.00,615.30C394.08,615.78 386.67,616.05 384.00,616.20" fill="none" stroke="#000" stroke-width="1.9" />
<path d="M137.90,599.50C138.17,598.85 138.48,596.62 139.50,595.60C140.52,594.58 142.35,593.98 144.00,593.40C145.65,592.82 146.73,592.60 149.40,592.10C152.07,591.60 155.88,590.88 160.00,590.40C164.12,589.92 167.43,589.55 174.10,589.20C180.77,588.85 190.68,588.57 200.00,588.30C209.32,588.03 220.00,587.80 230.00,587.60C240.00,587.40 248.33,587.20 260.00,587.10C271.67,587.00 288.00,586.78 300.00,587.00C312.00,587.22 323.67,587.95 332.00,588.40C340.33,588.85 344.25,589.22 350.00,589.70C355.75,590.18 361.00,590.68 366.50,591.30C372.00,591.92 376.97,592.65 383.00,593.40C389.03,594.15 396.12,594.88 402.70,595.80C409.28,596.72 418.52,597.62 422.50,598.90C426.48,600.18 425.92,602.73 426.60,603.50" fill="none" stroke="#000" stroke-width="1.9" />
<path d="M141.20,598.70C142.67,598.28 146.87,596.88 150.00,596.20C153.13,595.52 156.25,595.07 160.00,594.60C163.75,594.13 165.83,593.67 172.50,593.40C179.17,593.13 190.42,593.18 200.00,593.00C209.58,592.82 220.00,592.48 230.00,592.30C240.00,592.12 248.33,591.97 260.00,591.90C271.67,591.83 288.00,591.68 300.00,591.90C312.00,592.12 323.67,592.75 332.00,593.20C340.33,593.65 344.25,594.03 350.00,594.60C355.75,595.17 360.18,595.78 366.50,596.60C372.82,597.42 384.33,599.02 387.90,599.50" fill="none" stroke="#000" stroke-width="1.9" />
<path d="M137.90,599.50C138.17,600.47 137.58,603.65 139.50,605.30C141.42,606.95 145.00,608.17 149.40,609.40C153.80,610.63 160.68,611.73 165.90,612.70C171.12,613.67 178.23,614.78 180.70,615.20" fill="none" stroke="#000" stroke-width="1.9" />
<path d="M426.60,603.50C425.92,604.22 425.65,606.27 422.50,607.80C419.35,609.33 413.75,611.43 407.70,612.70C401.65,613.97 389.78,614.95 386.20,615.40" fill="none" stroke="#000" stroke-width="1.9" />
<rect x="172.6" y="592" width="32.6" height="8" fill="#fff" stroke="#000" stroke-width="1.6" rx="1.5"/>
<rect x="174.1" y="595.2" width="31.3" height="5.2" fill="#000" rx="1.5"/>
<rect x="388.4" y="599" width="32.6" height="7" fill="#fff" stroke="#000" stroke-width="1.6" rx="1.5"/>
<rect x="392.8" y="601.2" width="28" height="4.9" fill="#000" rx="1.5"/>
<path d="M179.10,601.20C179.67,603.92 181.18,612.53 182.50,617.50C183.82,622.47 185.33,626.42 187.00,631.00C188.67,635.58 190.83,640.67 192.50,645.00C194.17,649.33 195.75,653.25 197.00,657.00C198.25,660.75 199.25,665.08 200.00,667.50C200.75,669.92 201.25,670.83 201.50,671.50" fill="none" stroke="#000" stroke-width="1.9" />
<path d="M206.30,600.40L222.90,666.25" fill="none" stroke="#000" stroke-width="1.9" />
<path d="M388.00,606.00L375.50,640.00L364.00,671.25" fill="none" stroke="#000" stroke-width="1.9" />
<path d="M201.50,671.50C202.92,671.02 206.47,669.48 210.00,668.60C213.53,667.73 216.03,667.08 222.70,666.25C229.37,665.42 240.12,664.21 250.00,663.60C259.88,662.99 270.42,662.48 282.00,662.60C293.58,662.72 309.08,663.52 319.50,664.30C329.92,665.08 337.08,666.14 344.50,667.30C351.92,668.46 360.75,670.59 364.00,671.25" fill="none" stroke="#000" stroke-width="1.9" />
<path d="M202,671.5L202,774" fill="none" stroke="#000" stroke-width="2.0" />
<path d="M223,666.3L223,773" fill="none" stroke="#000" stroke-width="2.0" />
<path d="M364,671.3L364,774" fill="none" stroke="#000" stroke-width="2.0" />
<path d="M363.2,714.7 C372.6,716 372.6,736.5 363.2,737.6 Z" fill="#000" stroke="#000" stroke-width="1"/>
<path d="M363.2,748.7 C372.6,750 372.6,771 363.2,772.2 Z" fill="#000" stroke="#000" stroke-width="1"/>
<path d="M364.3,737L364.3,749" fill="none" stroke="#000" stroke-width="2.2" />
<circle cx="275.0" cy="606.2" r="6.2" fill="none" stroke="#000" stroke-width="2.3"/>
<path d="M269.5,606.4L280.5,606.4" fill="none" stroke="#000" stroke-width="1.6" />
<circle cx="273.8" cy="627.6" r="5.4" fill="none" stroke="#000" stroke-width="2.2"/>
<circle cx="272.6" cy="648.8" r="4.2" fill="none" stroke="#000" stroke-width="2.2"/>
<circle cx="329.9" cy="607.4" r="5.7" fill="none" stroke="#000" stroke-width="2.5"/>
<path d="M326.6,603.4L326.6,612M328.6,604.6L332.6,604.6L332.6,611.4L328.6,611.4Z" fill="none" stroke="#000" stroke-width="1.4" />
<circle cx="328.1" cy="628.4" r="4.5" fill="none" stroke="#000" stroke-width="2.8"/>
<path d="M327,625.5L327,630M329.6,625.5L329.6,630" fill="none" stroke="#000" stroke-width="1.0" />
<rect x="323.6" y="645" width="6.6" height="10" rx="3.2" fill="#fff" stroke="#000" stroke-width="2.6"/>
<circle cx="302.55" cy="707.4" r="13.2" fill="#000"/>
<circle cx="304.3" cy="707.0" r="9.9" fill="#fff"/>
<circle cx="304.15000000000003" cy="707.1999999999999" r="6.4" fill="none" stroke="#000" stroke-width="1.8"/>
<circle cx="304.35" cy="707.1999999999999" r="3.7" fill="none" stroke="#000" stroke-width="1.5"/>
<circle cx="302.55" cy="741.8" r="13.2" fill="#000"/>
<circle cx="304.3" cy="741.4" r="9.9" fill="#fff"/>
<circle cx="304.15000000000003" cy="741.5999999999999" r="6.4" fill="none" stroke="#000" stroke-width="1.8"/>
<circle cx="304.35" cy="741.5999999999999" r="3.7" fill="none" stroke="#000" stroke-width="1.5"/>
<ellipse cx="282.2" cy="790.4" rx="134.6" ry="19.4" fill="#fff" stroke="#000" stroke-width="1.9"/>
<path d="M160.66,782.89C161.77,782.59 164.88,781.68 167.30,781.10C169.73,780.52 172.38,779.96 175.22,779.42C178.06,778.89 181.11,778.37 184.33,777.88C187.54,777.38 190.96,776.91 194.52,776.47C198.08,776.03 201.82,775.62 205.68,775.23C209.55,774.85 213.57,774.49 217.70,774.17C221.82,773.84 226.09,773.55 230.43,773.29C234.77,773.03 239.23,772.80 243.74,772.61C248.25,772.41 252.85,772.25 257.47,772.13C262.10,772.00 266.79,771.92 271.48,771.86C276.17,771.81 280.91,771.79 285.61,771.81C290.32,771.82 295.04,771.88 299.70,771.96C304.37,772.05 309.03,772.18 313.60,772.33C318.17,772.49 322.71,772.68 327.15,772.91C331.58,773.14 335.95,773.40 340.20,773.69C344.44,773.98 348.60,774.30 352.60,774.66C356.60,775.01 360.50,775.40 364.22,775.81C367.94,776.22 371.53,776.66 374.93,777.13C378.33,777.60 381.58,778.09 384.61,778.61C387.65,779.12 390.51,779.66 393.16,780.22C395.80,780.77 398.25,781.36 400.47,781.95C402.68,782.54 404.69,783.16 406.46,783.78C408.23,784.41 409.78,785.05 411.08,785.69C412.38,786.34 413.73,787.34 414.26,787.67" fill="none" stroke="#000" stroke-width="3.3" />
<path d="M153.37,789.62C153.88,789.35 155.11,788.51 156.44,787.96C157.76,787.42 159.39,786.88 161.29,786.36C163.20,785.83 165.40,785.32 167.87,784.82C170.33,784.33 173.08,783.85 176.06,783.39C179.05,782.93 182.31,782.49 185.77,782.07C189.23,781.65 192.95,781.25 196.85,780.88C200.74,780.51 204.87,780.17 209.14,779.85C213.40,779.53 217.88,779.24 222.46,778.99C227.05,778.73 231.80,778.50 236.64,778.30C241.47,778.10 246.45,777.94 251.46,777.80C256.47,777.67 261.60,777.57 266.72,777.50C271.84,777.43 277.04,777.40 282.20,777.40C287.36,777.40 292.56,777.43 297.68,777.50C302.80,777.57 307.93,777.67 312.94,777.80C317.95,777.94 322.93,778.10 327.76,778.30C332.60,778.50 337.35,778.73 341.94,778.99C346.52,779.24 351.00,779.53 355.26,779.85C359.53,780.17 363.66,780.51 367.55,780.88C371.45,781.25 375.17,781.65 378.63,782.07C382.09,782.49 385.35,782.93 388.34,783.39C391.32,783.85 394.07,784.33 396.53,784.82C399.00,785.32 401.20,785.83 403.11,786.36C405.01,786.88 406.64,787.42 407.96,787.96C409.29,788.51 410.52,789.35 411.03,789.62" fill="none" stroke="#000" stroke-width="1.6" />
<path d="M242.00,778.29C243.30,778.24 247.21,778.11 249.85,778.04C252.48,777.97 255.15,777.90 257.82,777.85C260.50,777.79 263.19,777.75 265.89,777.71C268.60,777.67 271.31,777.65 274.03,777.63C276.75,777.61 279.48,777.60 282.20,777.60C284.92,777.60 287.65,777.61 290.37,777.63C293.09,777.65 295.80,777.67 298.51,777.71C301.21,777.75 303.90,777.79 306.58,777.85C309.25,777.90 311.92,777.97 314.55,778.04C317.19,778.11 321.10,778.24 322.40,778.29" fill="none" stroke="#000" stroke-width="2.6" />
<path d="M185.22,784.16C186.15,784.06 188.89,783.75 190.83,783.56C192.76,783.36 194.77,783.17 196.83,782.99C198.90,782.81 201.03,782.63 203.22,782.47C205.40,782.30 207.65,782.14 209.95,781.98C212.24,781.83 214.60,781.68 217.00,781.54C219.39,781.40 221.84,781.27 224.33,781.15C226.82,781.03 229.35,780.91 231.92,780.80C234.49,780.70 237.10,780.60 239.73,780.51C242.37,780.42 245.04,780.33 247.73,780.26C250.42,780.19 254.52,780.10 255.88,780.07" fill="none" stroke="#000" stroke-width="3.6" />
<path d="M341.17,782.33C342.37,782.40 346.03,782.58 348.39,782.71C350.74,782.84 353.06,782.98 355.31,783.13C357.57,783.28 359.78,783.43 361.92,783.59C364.07,783.75 366.16,783.92 368.18,784.09C370.20,784.26 372.17,784.44 374.06,784.63C375.95,784.81 377.78,785.00 379.53,785.19C381.29,785.39 382.97,785.59 384.58,785.80C386.19,786.00 387.72,786.21 389.18,786.43C390.63,786.64 392.01,786.86 393.30,787.08C394.60,787.31 396.33,787.65 396.94,787.76" fill="none" stroke="#000" stroke-width="4.0" />
<path d="M198.75,803.17C200.28,803.31 204.75,803.77 207.89,804.05C211.03,804.32 214.27,804.58 217.58,804.82C220.89,805.06 224.28,805.28 227.74,805.48C231.19,805.68 234.73,805.87 238.30,806.03C241.88,806.19 245.52,806.34 249.19,806.46C252.86,806.58 256.58,806.68 260.31,806.76C264.05,806.85 267.83,806.91 271.60,806.94C275.38,806.98 279.18,807.00 282.97,807.00C286.76,807.00 290.56,806.97 294.33,806.93C298.11,806.88 301.88,806.82 305.61,806.73C309.33,806.64 313.05,806.54 316.71,806.41C320.36,806.28 325.74,806.04 327.55,805.96" fill="none" stroke="#000" stroke-width="4.2" />
<path d="M163.00,790.60L177.50,786.20L179.00,789.40L165.50,792.60L163.00,790.60" fill="none" stroke="#000" stroke-width="1.4" />
<path d="M387.00,791.00L401.00,791.60L403.60,797.00L390.00,797.40L387.00,791.00" fill="none" stroke="#000" stroke-width="1.4" />
<path d="M234.5,790.2 C260,789.4 290,789.4 316,790.2" fill="none" stroke="#000" stroke-width="2.8" />
<path d="M320,792.6 L339.5,793.4" fill="none" stroke="#000" stroke-width="2.8" />
<path d="M245.00,793.40C246.17,793.90 248.73,795.50 252.00,796.40C255.27,797.30 259.93,798.27 264.60,798.80C269.27,799.33 275.53,799.63 280.00,799.60C284.47,799.57 287.23,799.07 291.40,798.60C295.57,798.13 300.53,797.53 305.00,796.80C309.47,796.07 316.00,794.63 318.20,794.20" fill="none" stroke="#000" stroke-width="1.5" />
<path d="M261.00,799.00C262.83,799.15 268.42,799.78 272.00,799.90C275.58,800.02 280.75,799.73 282.50,799.70" fill="none" stroke="#000" stroke-width="3.0" />
<path d="M246.00,792.60C251.67,792.53 268.33,792.03 280.00,792.20C291.67,792.37 310.00,793.37 316.00,793.60" fill="none" stroke="#000" stroke-width="1.2" />
<path d="M362.0,131.8L572.5,94.5L609.6,94.5" fill="none" stroke="#000" stroke-width="1.0" style="stroke-linecap:butt;stroke-linejoin:miter"/>
<circle cx="362.0" cy="131.8" r="6.0" fill="#000"/>
<path d="M421.0,206.6L572.3,184.5L609.9,184.5" fill="none" stroke="#000" stroke-width="1.0" style="stroke-linecap:butt;stroke-linejoin:miter"/>
<circle cx="421.0" cy="206.6" r="6.0" fill="#000"/>
<path d="M376.1,227.6L575,278.5L610.3,278.5" fill="none" stroke="#000" stroke-width="1.0" style="stroke-linecap:butt;stroke-linejoin:miter"/>
<circle cx="376.1" cy="227.6" r="6.0" fill="#000"/>
<path d="M374.5,254.6L575.2,380.5L609.9,380.5" fill="none" stroke="#000" stroke-width="1.0" style="stroke-linecap:butt;stroke-linejoin:miter"/>
<circle cx="374.5" cy="254.6" r="6.0" fill="#000"/>
<path d="M389.4,509L573,566.5L609,566.5" fill="none" stroke="#000" stroke-width="1.0" style="stroke-linecap:butt;stroke-linejoin:miter"/>
<circle cx="389.4" cy="509" r="6.0" fill="#000"/>
<path d="M325.9,641.5L572.3,689.5L609,689.5" fill="none" stroke="#000" stroke-width="1.0" style="stroke-linecap:butt;stroke-linejoin:miter"/>
<circle cx="325.9" cy="641.5" r="6.0" fill="#000"/>
<path d="M325.8,784.2L571.3,825.5L609,825.5" fill="none" stroke="#000" stroke-width="1.0" style="stroke-linecap:butt;stroke-linejoin:miter"/>
<circle cx="325.8" cy="784.2" r="6.0" fill="#000"/>
</g>
<g class="lbl">
<g transform="translate(587.6,81.80) scale(0.62,1.0)" clip-path="url(#c1)"><text x="0" y="0" text-anchor="middle">1</text></g>
<g transform="translate(589.0,171.00) scale(0.62,1.0)"><text x="0" y="0" text-anchor="middle">2</text></g>
<g transform="translate(589.8,265.90) scale(0.62,1.0)"><text x="0" y="0" text-anchor="middle">3</text></g>
<g transform="translate(589.8,368.20) scale(0.66,1.0)"><text x="0" y="0" text-anchor="middle">4</text></g>
<g transform="translate(588.8,553.50) scale(0.62,1.0)"><text x="0" y="0" text-anchor="middle">5</text></g>
<g transform="translate(589.0,676.90) scale(0.62,1.0)"><text x="0" y="0" text-anchor="middle">6</text></g>
<g transform="translate(589.1,812.60) scale(0.68,1.0)"><text x="0" y="0" text-anchor="middle">7</text></g>
</g>
</svg>
</body>
</html>
